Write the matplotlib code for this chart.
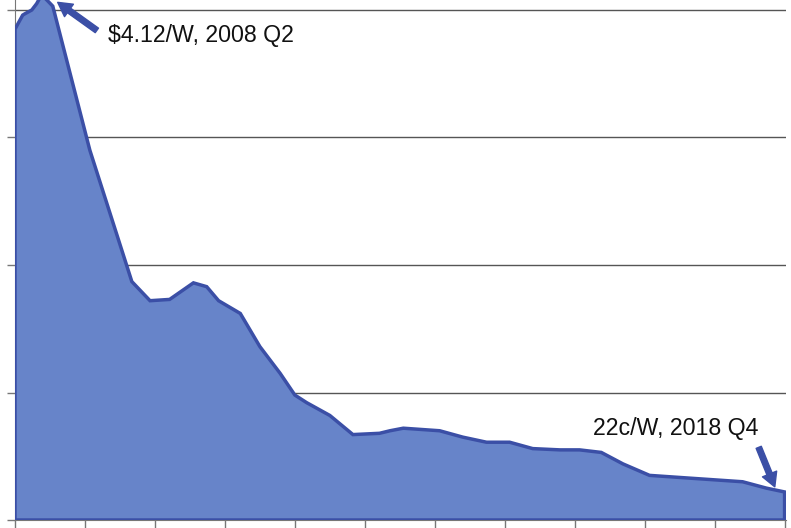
import matplotlib
matplotlib.use("Agg")
import matplotlib.pyplot as plt

# Module price ($/W), x as fractional years
years = [2008.00, 2008.11, 2008.14, 2008.24, 2008.31, 2008.38, 2008.47, 2008.54,
         2009.07, 2009.67, 2009.93, 2010.21, 2010.55, 2010.74, 2010.91, 2011.22,
         2011.50, 2011.79, 2012.00, 2012.17, 2012.50, 2012.83, 2013.21, 2013.36,
         2013.55, 2014.07, 2014.40, 2014.74, 2015.07, 2015.40, 2015.79, 2016.07,
         2016.38, 2016.69, 2017.07, 2017.60, 2018.40, 2018.74, 2019.00]
price = [3.85, 3.96, 3.97, 4.00, 4.05, 4.12, 4.07, 4.03,
         2.90, 1.87, 1.72, 1.73, 1.86, 1.83, 1.72, 1.62,
         1.36, 1.15, 0.98, 0.92, 0.82, 0.67, 0.68, 0.70,
         0.72, 0.70, 0.65, 0.61, 0.61, 0.56, 0.55, 0.55,
         0.53, 0.44, 0.35, 0.33, 0.30, 0.25, 0.22]
year_ticks = list(range(2008, 2020))
y_ticks = [0, 1, 2, 3, 4]
peak_label = "$4.12/W, 2008 Q2"
end_label = "22c/W, 2018 Q4"

fill_c = "#6784c9"
edge_c = "#3b4fa6"

fig = plt.figure(figsize=(7.91, 5.28), dpi=100)
ax = fig.add_axes([15/791, 8/528, 771/791, 520/528])
ax.set_xlim(2008, 2019.02)
ax.set_ylim(0, 520/127.5)

ax.set_yticks(y_ticks)
ax.set_xticks(year_ticks)
ax.set_yticklabels([])
ax.set_xticklabels([])
ax.yaxis.grid(True, color="#555555", linewidth=1.0)
ax.set_axisbelow(True)
ax.tick_params(axis="y", length=6, color="#777777", width=1)
ax.tick_params(axis="x", length=8, color="#777777", width=1)
for s in ["top", "right"]:
    ax.spines[s].set_visible(False)
ax.spines["left"].set_color("#777777")
ax.spines["bottom"].set_color("#777777")

xs = list(years) + [years[-1], years[0]]
ys = list(price) + [0, 0]
ax.fill(xs, ys, facecolor=fill_c, edgecolor=edge_c, linewidth=2.5, zorder=3, clip_on=True)

font = ["Liberation Sans", "DejaVu Sans"]
arrow_style = dict(arrowstyle="simple,head_width=1.1,head_length=1.0,tail_width=0.4",
                   color=edge_c, shrinkA=0, shrinkB=0)

ax.text(2009.33, 3.80, peak_label, fontsize=16.7, family=font, color="#111111",
        va="center", ha="left", zorder=5)
ax.annotate("", xy=(2008.61, 4.06), xytext=(2009.17, 3.84),
            arrowprops=arrow_style, annotation_clip=False, zorder=5)

ax.text(2018.62, 0.72, end_label, fontsize=16.7, family=font, color="#111111",
        va="center", ha="right", zorder=5)
ax.annotate("", xy=(2018.86, 0.26), xytext=(2018.63, 0.57),
            arrowprops=arrow_style, annotation_clip=False, zorder=5)

fig.savefig("out.png", dpi=100)
